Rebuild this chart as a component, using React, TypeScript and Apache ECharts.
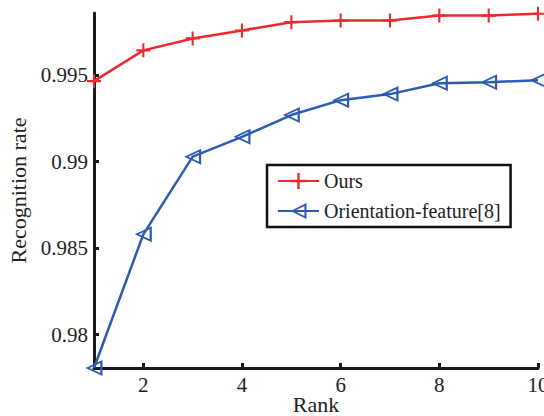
import React, { useEffect, useRef } from "react";
import * as echarts from "echarts";

const ranks = [1, 2, 3, 4, 5, 6, 7, 8, 9, 10];
const ours = [0.99466, 0.99644, 0.99713, 0.99759, 0.99807, 0.99816, 0.99816, 0.99845, 0.99845, 0.99856];
const orientation = [0.97807, 0.9858, 0.99029, 0.99144, 0.9927, 0.99356, 0.99391, 0.99454, 0.9946, 0.99471];
const xTicks = [2, 4, 6, 8, 10];
const yTicks = [0.98, 0.985, 0.99, 0.995];

const RED = "#ec2a2e";
const BLUE = "#2b5cb0";
const FONT = "'Liberation Serif', 'Times New Roman', serif";

export default function App() {
  const ref = useRef<HTMLDivElement>(null);
  useEffect(() => {
    const chart = echarts.init(ref.current!, null, { renderer: "svg" });
    const crossPath = "path://M4.25,0H5.75V4.25H10V5.75H5.75V10H4.25V5.75H0V4.25H4.25Z";
    const triPath = "path://M0,5L10,0L10,10Z M2.4,5L8.7,8.1L8.7,1.9Z";
    chart.setOption({
      animation: false,
      backgroundColor: "#fff",
      grid: { left: 94, right: 6, top: 13, bottom: 48, containLabel: false, outerBoundsMode: "none" },
      legend: {
        orient: "vertical",
        left: 267,
        top: 165,
        padding: [6, 10, 6, 10],
        itemGap: 10,
        itemWidth: 41,
        itemHeight: 20,
        borderColor: "#111",
        borderWidth: 2.5,
        borderRadius: 0,
        backgroundColor: "#fff",
        textStyle: { fontFamily: FONT, fontSize: 20, color: "#222" },
        data: ["Ours", "Orientation-feature[8]"],
      },
      xAxis: {
        type: "value",
        min: 1,
        max: 10,
        name: "Rank",
        nameLocation: "middle",
        nameGap: 26,
        nameMoveOverlap: false,
        nameTextStyle: { fontFamily: FONT, fontSize: 22, lineHeight: 20, color: "#222" },
        axisLine: { lineStyle: { color: "#1a1a1a", width: 3 } },
        axisTick: { inside: true, length: 5, customValues: xTicks, lineStyle: { color: "#1a1a1a", width: 3 } },
        axisLabel: { customValues: xTicks, margin: 7, fontFamily: FONT, fontSize: 21, lineHeight: 19, color: "#222" },
        splitLine: { show: false },
      },
      yAxis: {
        type: "value",
        min: 0.97807,
        max: 0.9986,
        name: "Recognition rate",
        nameLocation: "middle",
        nameGap: 61,
        nameTextStyle: { fontFamily: FONT, fontSize: 22, color: "#222" },
        axisLine: { show: true, lineStyle: { color: "#1a1a1a", width: 3 } },
        axisTick: { show: true, inside: true, length: 5, customValues: yTicks, lineStyle: { color: "#1a1a1a", width: 3 } },
        axisLabel: {
          customValues: yTicks,
          margin: 6,
          fontFamily: FONT,
          fontSize: 21,
          color: "#222",
          formatter: (v: number) => String(parseFloat(v.toFixed(4))),
        },
        splitLine: { show: false },
      },
      series: [
        {
          name: "Ours",
          type: "line",
          data: ranks.map((r, i) => [r, ours[i]]),
          symbol: crossPath,
          symbolSize: 14,
          showAllSymbol: true,
          itemStyle: { color: RED },
          lineStyle: { color: RED, width: 2.5 },
          clip: false,
          z: 3,
        },
        {
          name: "Orientation-feature[8]",
          type: "line",
          data: ranks.map((r, i) => [r, orientation[i]]),
          symbol: triPath,
          symbolSize: [17, 16],
          showAllSymbol: true,
          itemStyle: { color: BLUE },
          lineStyle: { color: BLUE, width: 2.5 },
          clip: false,
          z: 2,
        },
      ],
    });
    return () => chart.dispose();
  }, []);
  return <div ref={ref} style={{ width: 544, height: 416, position: "absolute", left: 0, top: 0 }} />;
}
